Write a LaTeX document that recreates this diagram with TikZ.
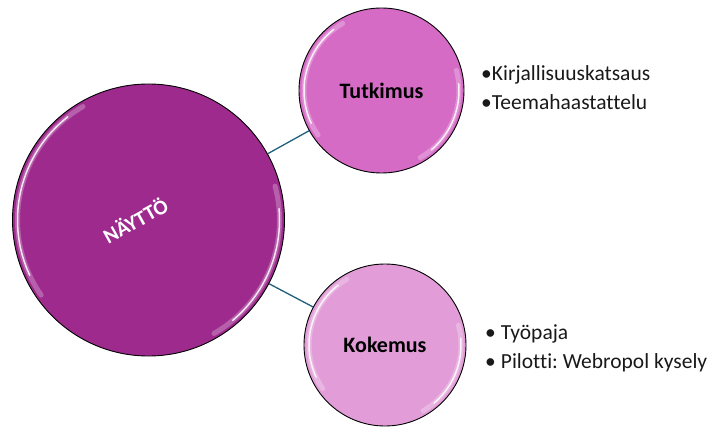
\documentclass[tikz,border=0pt]{standalone}
\usepackage{fontspec}
\setmainfont{Carlito}[Ligatures=NoCommon]
\begin{document}
\frenchspacing
\begin{tikzpicture}[x=1pt,y=1pt,
  bubble/.style={circle, draw=black, line width=0.9pt, inner sep=0pt, text=black},
  link/.style={draw={rgb,255:red,31;green,95;blue,122}, line width=1.3pt},
  shine/.style={white, line width=1.5pt, line cap=round, opacity=0.85},
  rim/.style={line width=5pt, line cap=round, opacity=0.25},
  item/.style={anchor=base west, inner sep=0pt, font=\fontsize{21.5}{26}\selectfont, text=black!90}
]
\definecolor{mainpurple}{RGB}{158,42,142}
\definecolor{midpink}{RGB}{214,107,198}
\definecolor{lightpink}{RGB}{226,157,216}
\useasboundingbox (0,0) rectangle (717,429);

% circles
\node[bubble, fill=mainpurple, minimum size=272pt] (naytto) at (148.5,209) {};
\node[bubble, fill=midpink, minimum size=165pt, font=\fontsize{22}{26}\selectfont\bfseries] (tutk) at (381.5,338.5) {Tutkimus};
\node[bubble, fill=lightpink, minimum size=162pt, font=\fontsize{22}{26}\selectfont\bfseries] (koke) at (385,84) {Kokemus};

% glossy rim highlights
\foreach \c/\r in {naytto/136, tutk/82.5, koke/81}{
  \draw[rim, white] ([shift={(120:\r-5)}]\c.center) arc (120:215:\r-5);
  \draw[rim, white] ([shift={(-60:\r-5)}]\c.center) arc (-60:15:\r-5);
  \draw[shine] ([shift={(128:\r-5)}]\c.center) arc (128:205:\r-5);
  \draw[shine] ([shift={(-50:\r-5)}]\c.center) arc (-50:5:\r-5);
}

% central label
\node[rotate=29, text=white, font=\fontsize{21}{24}\selectfont\bfseries] (lbl) at (135,209) {NÄYTTÖ};

% connectors
\draw[link] (naytto) -- (tutk);
\draw[link] (naytto) -- (koke);

% bullet lists
\node[item] (k1) at (481,348) {•Kirjallisuuskatsaus};
\node[item] (k2) at (481,319) {•Teemahaastattelu};
\node[item] (e1) at (485,90) {•\hspace{5pt}Työpaja};
\node[item] (e2) at (485,61) {•\hspace{5pt}Pilotti: Webropol kysely};
\end{tikzpicture}
\end{document}
